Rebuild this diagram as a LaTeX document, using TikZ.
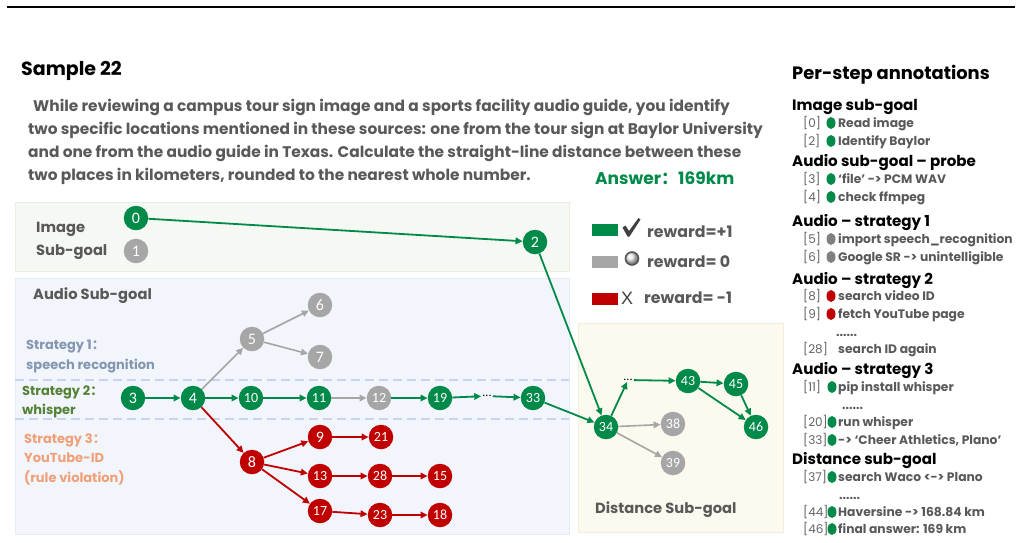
\documentclass[tikz,border=0pt]{standalone}
\usepackage{fontspec}
\setmainfont{Poppins}
\newfontfamily\carl{Carlito}
\newfontfamily\cjk{Noto Sans CJK SC}
\newfontfamily\lib{Liberation Sans}
\usetikzlibrary{arrows.meta,shapes.geometric}
\newcommand\fsz[1]{\fontsize{#1}{#1}\selectfont}
\definecolor{cgreen}{RGB}{0,138,74}
\definecolor{cred}{RGB}{192,0,0}
\definecolor{cgray}{RGB}{166,166,166}
\definecolor{cdot}{RGB}{128,128,128}
\definecolor{ctext}{RGB}{89,89,89}
\definecolor{clab}{RGB}{100,100,100}
\definecolor{cs1}{RGB}{132,151,176}
\definecolor{cs2}{RGB}{84,130,53}
\definecolor{cs3}{RGB}{240,160,120}
\definecolor{bimg}{RGB}{246,248,243}
\definecolor{bimgd}{RGB}{232,238,226}
\definecolor{baud}{RGB}{242,245,251}
\definecolor{baudd}{RGB}{230,236,246}
\definecolor{bdist}{RGB}{252,249,238}
\definecolor{bdistd}{RGB}{242,238,222}
\definecolor{cdash}{RGB}{200,212,236}
\definecolor{cmark}{RGB}{64,64,64}
\tikzset{
  nd/.style={circle, minimum size=24.5pt, inner sep=0pt, text=white, font=\carl\fsz{16}},
  nd2/.style={nd, font=\carl\fsz{14}},
  G/.style={fill=cgreen}, R/.style={fill=cred}, Y/.style={fill=cgray},
  arr/.style={line width=1.8pt, -{Triangle[length=7pt,width=6.5pt]}},
  ga/.style={arr, color=cgreen},
  ra/.style={arr, color=cred},
  ya/.style={arr, color=cgray, line width=1.6pt},
  dots/.style={inner sep=1pt, font=\carl\fsz{12}, text=black},
  para/.style={anchor=base west, inner sep=0pt, text=ctext, font=\bfseries\fsz{15.4}},
  boxlab/.style={anchor=base west, inner sep=0pt, text=ctext, font=\bfseries\fsz{14.7}},
  strat/.style={anchor=base west, inner sep=0pt, font=\bfseries\fsz{13}},
  lgtxt/.style={anchor=base west, inner sep=0pt, text=ctext, font=\bfseries\fsz{15.8}},
  head/.style={anchor=base west, inner sep=0pt, text=black, font=\bfseries\fsz{15.1}},
  lab/.style={anchor=base west, inner sep=0pt, text=clab, font=\fsz{12}},
  itm/.style={anchor=base west, inner sep=0pt, text=ctext, font=\bfseries\fsz{12.3}},
  dot/.style={ellipse, minimum width=9pt, minimum height=12pt, inner sep=0pt},
}
\newcommand\ann[6]{% name, baseline y, label, dot x, dot colour, text
  \node[lab] (#1l) at (803,#2) {#3};
  \node[dot, fill=#5] (#1d) at (#4,#2-4.5) {};
  \node[itm] (#1t) at (838,#2) {#6};
}
\begin{document}
\begin{tikzpicture}[x=1pt,y=-1pt]
\useasboundingbox (0,0) rectangle (1022,542);
% top rule
\draw[line width=1.5pt] (7,7) -- (1015,7);
% title & question
\node[anchor=base west, inner sep=0pt, font=\bfseries\fsz{19}] (title) at (21,75) {Sample 22};
\node[para] (q1) at (33,111.5) {While reviewing a campus tour sign image and a sports facility audio guide, you identify};
\node[para] (q2) at (28,134) {two specific locations mentioned in these sources: one from the tour sign at Baylor University};
\node[para] (q3) at (28,157) {and one from the audio guide in Texas. Calculate the straight-line distance between these};
\node[para] (q4) at (28,180) {two places in kilometers, rounded to the nearest whole number.};
\node[anchor=base west, inner sep=0pt, text=cgreen, font=\bfseries\fsz{17}] (ans) at (595,184) {Answer{\cjk ：}169km};
% boxes
\draw[bimgd, fill=bimg] (15,202) rectangle (569,271);
\draw[baudd, fill=baud] (15,278) rectangle (569,534);
\draw[bdistd, fill=bdist] (578,323) rectangle (783,532);
\draw[cdash, line width=1.2pt, dash pattern=on 9pt off 5pt] (15,380) -- (569,380);
\draw[cdash, line width=1.2pt, dash pattern=on 9pt off 5pt] (15,419) -- (569,419);
% box labels
\node[boxlab] (imgA) at (36,232) {Image};
\node[boxlab] (imgB) at (36,255) {Sub-goal};
\node[boxlab] (aud) at (33,299) {Audio Sub-goal};
\node[boxlab] (dist) at (595,513) {Distance Sub-goal};
\node[strat, text=cs1] (s1a) at (26,349) {Strategy 1{\cjk ：}};
\node[strat, text=cs1] (s1b) at (26,369) {speech recognition};
\node[strat, text=cs2] (s2a) at (22,395) {Strategy 2{\cjk ：}};
\node[strat, text=cs2] (s2b) at (22,414) {whisper};
\node[strat, text=cs3] (s3a) at (24,443) {Strategy 3{\cjk ：}};
\node[strat, text=cs3] (s3b) at (24,462) {YouTube-ID};
\node[strat, text=cs3] (s3c) at (24,482) {(rule violation)};
% nodes
\node[nd,G] (n0) at (136,218) {0};
\node[nd,Y] (n1) at (136,251) {1};
\node[nd,G] (n2) at (535,242) {2};
\node[nd,G] (n3) at (133,398) {3};
\node[nd,G] (n4) at (193,398) {4};
\node[nd2,G] (n10) at (251,398) {10};
\node[nd2,G] (n11) at (319,398) {11};
\node[nd2,Y] (n12) at (379,398) {12};
\node[nd2,G] (n19) at (440,398) {19};
\node[dots] (da) at (487,396) {...};
\node[nd2,G] (n33) at (533,398) {33};
\node[nd,Y] (n5) at (252,339) {5};
\node[nd,Y] (n6) at (320,305) {6};
\node[nd,Y] (n7) at (320,357) {7};
\node[nd,R] (n8) at (252,462) {8};
\node[nd,R] (n9) at (320,437) {9};
\node[nd2,R] (n13) at (320,476) {13};
\node[nd2,R] (n17) at (320,511) {17};
\node[nd2,R] (n21) at (381,437) {21};
\node[nd2,R] (n28) at (380,476) {28};
\node[nd2,R] (n15) at (440,476) {15};
\node[nd2,R] (n23) at (380,515) {23};
\node[nd2,R] (n18) at (440,515) {18};
\node[nd2,G] (n34) at (606,427) {34};
\node[dots] (db) at (628,380) {...};
\node[nd2,G] (n43) at (688,381) {43};
\node[nd2,G] (n45) at (736,384) {45};
\node[nd2,G] (n46) at (756,427) {46};
\node[nd2,Y] (n38) at (673,424) {38};
\node[nd2,Y] (n39) at (673,463) {39};
% edges
\draw[ga] (n0) -- (n2);
\draw[ga] (n2) -- (n34);
\draw[ga] (n3) -- (n4);
\draw[ga] (n4) -- (n10);
\draw[ga] (n10) -- (n11);
\draw[ya] (n11) -- (n12);
\draw[ga] (n12) -- (n19);
\draw[ga] (n19) -- (da);
\draw[ga] (da) -- (n33);
\draw[ga] (n33) -- (n34);
\draw[ya] (n4) -- (n5);
\draw[ya] (n5) -- (n6);
\draw[ya] (n5) -- (n7);
\draw[ra] (n4) -- (n8);
\draw[ra] (n8) -- (n9);
\draw[ra] (n8) -- (n13);
\draw[ra] (n8) -- (n17);
\draw[ra] (n9) -- (n21);
\draw[ra] (n13) -- (n28);
\draw[ra] (n28) -- (n15);
\draw[ra] (n17) -- (n23);
\draw[ra] (n23) -- (n18);
\draw[ga] (n34) -- (db);
\draw[ga] (db) -- (n43);
\draw[ga] (n43) -- (n45);
\draw[ga] (n43) -- (n46);
\draw[ga] (n45) -- (n46);
\draw[ya] (n34) -- (n38);
\draw[ya] (n34) -- (n39);
% legend
\node[fill=cgreen, minimum width=26pt, minimum height=12pt, inner sep=0pt] (lg1) at (605,230) {};
\node[fill=cgray, minimum width=26pt, minimum height=12pt, inner sep=0pt] (lg2) at (605,262) {};
\node[fill=cred, minimum width=26pt, minimum height=12pt, inner sep=0pt] (lg3) at (605,299) {};
% check mark
\fill[cmark] (622.5,227.5) -- (625.5,225.5) -- (629,231) -- (638.5,218) -- (640.5,219.5) -- (629.5,236.5) -- (627.5,236.5) -- cycle;
% radio button
\shade[ball color=white!85!gray] (632,258.5) circle (6.5pt);
\draw[ctext, line width=1.6pt] (632,258.5) circle (6.5pt);
\node[inner sep=0pt, text=cmark, font=\lib\fsz{18}] (cx) at (627,298) {X};
\node[lgtxt] (lt1) at (647,237) {reward=+1};
\node[lgtxt] (lt2) at (647,267) {reward= 0};
\node[lgtxt] (lt3) at (644,303) {reward= -1};
% annotations
\node[anchor=base west, inner sep=0pt, font=\bfseries\fsz{17.9}] (ptitle) at (792,79) {Per-step annotations};
\node[head] (h1) at (792,110.5) {Image sub-goal};
\ann{a0}{127.5}{[0]}{831}{cgreen}{Read image}
\ann{a2}{145.5}{[2]}{831}{cgreen}{Identify Baylor}
\node[head] (h2) at (792,166.5) {Audio sub-goal -- probe};
\ann{a3}{183.5}{[3]}{831}{cgreen}{‘file’ -> PCM WAV}
\ann{a4}{201.5}{[4]}{831}{cgreen}{check ffmpeg}
\node[head] (h3) at (792,226.5) {Audio -- strategy 1};
\ann{a5}{243.5}{[5]}{831}{cdot}{import speech\_recognition}
\ann{a6}{261.5}{[6]}{831}{cdot}{Google SR -> unintelligible}
\node[head] (h4) at (792,284.5) {Audio -- strategy 2};
\ann{a8}{300.5}{[8]}{831}{cred}{search video ID}
\ann{a9}{318.5}{[9]}{831}{cred}{fetch YouTube page}
\node[itm] (e1) at (836,336) {......};
\node[lab] (a28l) at (803,353.5) {[28]};
\node[itm] (a28t) at (838,353.5) {search ID again};
\node[head] (h5) at (792,374.5) {Audio -- strategy 3};
\ann{a11}{391.5}{[11]}{832}{cgreen}{pip install whisper}
\node[itm] (e2) at (842,409) {......};
\ann{a20}{426.5}{[20]}{832}{cgreen}{run whisper}
\ann{a33}{444.5}{[33]}{832}{cgreen}{-> ‘Cheer Athletics, Plano’}
\node[head] (h6) at (792,464.5) {Distance sub-goal};
\ann{a37}{481.5}{[37]}{832}{cgreen}{search Waco <-> Plano}
\node[itm] (e3) at (839,499) {......};
\ann{a44}{516.5}{[44]}{832}{cgreen}{Haversine -> 168.84 km}
\ann{a46}{533.5}{[46]}{832}{cgreen}{final answer: 169 km}
\end{tikzpicture}
\end{document}
